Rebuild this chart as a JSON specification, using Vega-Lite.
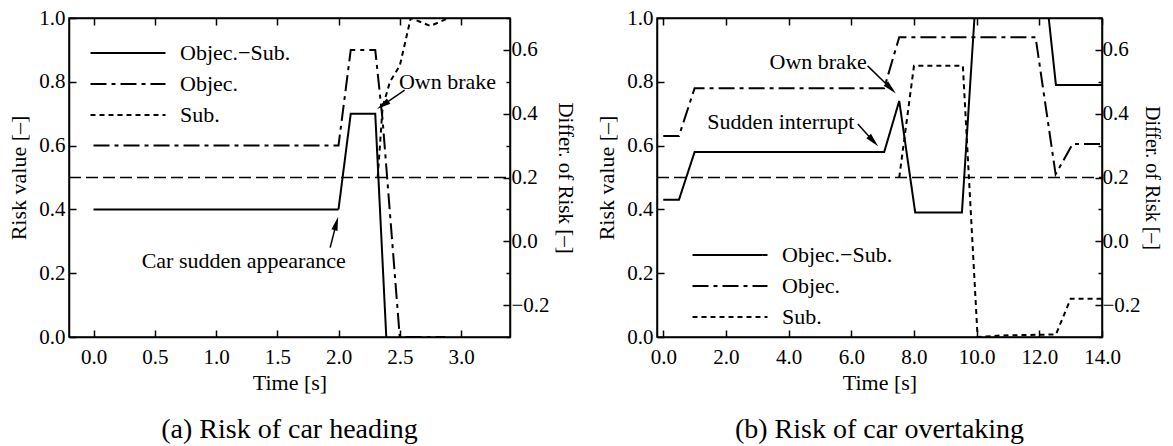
{
  "$schema": "https://vega.github.io/schema/vega-lite/v6.json",
  "background": "white",
  "padding": {"left": 7, "top": 6, "right": 2, "bottom": 5},
  "spacing": 19,
  "resolve": {"scale": {"strokeDash": "independent"}, "legend": {"strokeDash": "independent"}},
  "config": {
    "font": "Liberation Serif",
    "view": {"stroke": "black", "strokeWidth": 1.5},
    "axis": {
      "grid": false,
      "domainColor": "black", "domainWidth": 1.5,
      "tickColor": "black", "tickWidth": 1.5,
      "labelColor": "black", "titleColor": "black",
      "labelFont": "Liberation Serif", "titleFont": "Liberation Serif",
      "labelFontSize": 21, "titleFontSize": 22, "titleFontWeight": "normal",
      "labelFlush": false, "labelOverlap": false
    },
    "legend": {
      "orient": "none", "title": null, "direction": "vertical",
      "symbolType": "M-5,0H5", "symbolSize": 225, "symbolStrokeWidth": 2,
      "symbolStrokeColor": "black", "symbolFillColor": "transparent",
      "labelFont": "Liberation Serif", "labelFontSize": 22, "labelColor": "black",
      "labelOffset": 41, "rowPadding": 9, "padding": 0
    }
  },
  "datasets": {
    "linesA": [
      {"t": 0, "v": 0.4, "s": "Objec.−Sub."},
      {"t": 2.0, "v": 0.4, "s": "Objec.−Sub."},
      {"t": 2.1, "v": 0.7, "s": "Objec.−Sub."},
      {"t": 2.3, "v": 0.7, "s": "Objec.−Sub."},
      {"t": 2.39, "v": 0.0, "s": "Objec.−Sub."},
      {"t": 0, "v": 0.6, "s": "Objec."},
      {"t": 2.0, "v": 0.6, "s": "Objec."},
      {"t": 2.1, "v": 0.9, "s": "Objec."},
      {"t": 2.3, "v": 0.9, "s": "Objec."},
      {"t": 2.36, "v": 0.68, "s": "Objec."},
      {"t": 2.5, "v": 0.0, "s": "Objec."},
      {"t": 2.87, "v": 0.0, "s": "Objec."},
      {"t": 2.32, "v": 0.5, "s": "Sub."},
      {"t": 2.36, "v": 0.72, "s": "Sub."},
      {"t": 2.42, "v": 0.8, "s": "Sub."},
      {"t": 2.5, "v": 0.85, "s": "Sub."},
      {"t": 2.59, "v": 1.0, "s": "Sub."},
      {"t": 2.75, "v": 0.975, "s": "Sub."},
      {"t": 2.9, "v": 1.0, "s": "Sub."},
      {"t": 3.0, "v": 1.0, "s": "Sub."}
    ],
    "linesB": [
      {"t": 0, "v": 0.43, "s": "Objec.−Sub."},
      {"t": 0.5, "v": 0.43, "s": "Objec.−Sub."},
      {"t": 1.0, "v": 0.58, "s": "Objec.−Sub."},
      {"t": 7.05, "v": 0.58, "s": "Objec.−Sub."},
      {"t": 7.53, "v": 0.74, "s": "Objec.−Sub."},
      {"t": 8.04, "v": 0.39, "s": "Objec.−Sub."},
      {"t": 9.53, "v": 0.39, "s": "Objec.−Sub."},
      {"t": 9.93, "v": 1.0, "s": "Objec.−Sub."},
      {"t": 12.3, "v": 1.0, "s": "Objec.−Sub."},
      {"t": 12.53, "v": 0.79, "s": "Objec.−Sub."},
      {"t": 14.0, "v": 0.79, "s": "Objec.−Sub."},
      {"t": 0, "v": 0.63, "s": "Objec."},
      {"t": 0.5, "v": 0.63, "s": "Objec."},
      {"t": 1.0, "v": 0.78, "s": "Objec."},
      {"t": 7.05, "v": 0.78, "s": "Objec."},
      {"t": 7.53, "v": 0.94, "s": "Objec."},
      {"t": 11.88, "v": 0.94, "s": "Objec."},
      {"t": 12.52, "v": 0.51, "s": "Objec."},
      {"t": 13.06, "v": 0.605, "s": "Objec."},
      {"t": 14.0, "v": 0.605, "s": "Objec."},
      {"t": 7.53, "v": 0.5, "s": "Sub."},
      {"t": 8.0, "v": 0.85, "s": "Sub."},
      {"t": 9.56, "v": 0.85, "s": "Sub."},
      {"t": 10.03, "v": 0.0, "s": "Sub."},
      {"t": 10.83, "v": 0.005, "s": "Sub."},
      {"t": 12.53, "v": 0.008, "s": "Sub."},
      {"t": 13.0, "v": 0.12, "s": "Sub."},
      {"t": 14.0, "v": 0.12, "s": "Sub."}
    ],
    "annA": [
      {"t": 2.89, "v": 0.8, "label": "Own brake"},
      {"t": 1.226, "v": 0.2375, "label": "Car sudden appearance"}
    ],
    "arrowsA": [
      {"id": "brake", "t": 2.54, "v": 0.774, "t2": 2.362, "v2": 0.727},
      {"id": "car", "t": 1.932, "v": 0.28, "t2": 1.982, "v2": 0.356}
    ],
    "annB": [
      {"t": 4.94, "v": 0.8625, "label": "Own brake"},
      {"t": 3.75, "v": 0.675, "label": "Sudden interrupt"}
    ],
    "arrowsB": [
      {"id": "brake", "t": 6.52, "v": 0.85, "t2": 7.263, "v2": 0.779},
      {"id": "sudden", "t": 6.207, "v": 0.668, "t2": 6.705, "v2": 0.614}
    ],
    "refA": [{"t0": -0.2, "t1": 3.4, "d": 0.2}],
    "refB": [{"t0": -0.2, "t1": 14.0, "d": 0.2}]
  },
  "hconcat": [
    {
      "width": 441, "height": 319,
      "title": {"text": "(a) Risk of car heading", "orient": "bottom", "frame": "group", "fontSize": 28, "font": "Liberation Serif", "fontWeight": "normal", "offset": 23, "color": "black"},
      "resolve": {"scale": {"y": "independent"}, "axis": {"x": "independent"}},
      "layer": [
        {
          "layer": [
            {
              "data": {"name": "linesA"},
              "mark": {"type": "line", "clip": true, "color": "black", "strokeWidth": 2},
              "encoding": {
                "x": {"field": "t", "type": "quantitative",
                  "scale": {"domain": [-0.2, 3.4], "nice": false, "zero": false},
                  "axis": {"orient": "bottom", "values": [0, 0.5, 1, 1.5, 2, 2.5, 3], "format": ".1f", "title": "Time [s]", "tickSize": -7, "labelPadding": 16, "titlePadding": 5}},
                "y": {"field": "v", "type": "quantitative",
                  "scale": {"domain": [0, 1], "nice": false, "zero": false},
                  "axis": {"orient": "left", "values": [0, 0.1, 0.2, 0.3, 0.4, 0.5, 0.6, 0.7, 0.8, 0.9, 1.0], "format": ".1f",
                    "labelExpr": "abs(round(datum.value*10)) % 2 == 0 ? datum.label : ''",
                    "tickSize": {"condition": {"test": "abs(round(datum.value*10)) % 2 == 0", "value": -7}, "value": -4},
                    "labelPadding": 11, "title": "Risk value [–]", "titlePadding": 8}},
                "strokeDash": {"field": "s", "type": "nominal",
                  "scale": {"domain": ["Objec.−Sub.", "Objec.", "Sub."], "range": [[1, 0], [16, 5, 4, 5], [5, 4]]},
                  "legend": {"legendX": 48, "legendY": 24}}
              }
            },
            {
              "data": {"name": "arrowsA"},
              "mark": {"type": "rule", "color": "black", "strokeWidth": 1.5},
              "encoding": {
                "x": {"field": "t", "type": "quantitative"},
                "y": {"field": "v", "type": "quantitative"},
                "x2": {"field": "t2"},
                "y2": {"field": "v2"}
              }
            },
            {
              "data": {"name": "arrowsA"},
              "transform": [{"filter": "datum.id == 'brake'"}],
              "mark": {"type": "point", "shape": "M0,-1L-0.45,1L0.45,1Z", "size": 196, "filled": true, "fill": "black", "strokeWidth": 0, "opacity": 1, "angle": 235.6},
              "encoding": {
                "x": {"field": "t2", "type": "quantitative"},
                "y": {"field": "v2", "type": "quantitative"}
              }
            },
            {
              "data": {"name": "arrowsA"},
              "transform": [{"filter": "datum.id == 'car'"}],
              "mark": {"type": "point", "shape": "M0,-1L-0.45,1L0.45,1Z", "size": 196, "filled": true, "fill": "black", "strokeWidth": 0, "opacity": 1, "angle": 15.5},
              "encoding": {
                "x": {"field": "t2", "type": "quantitative"},
                "y": {"field": "v2", "type": "quantitative"}
              }
            },
            {
              "data": {"name": "annA"},
              "mark": {"type": "text", "font": "Liberation Serif", "fontSize": 22, "color": "black", "align": "center", "baseline": "middle"},
              "encoding": {
                "x": {"field": "t", "type": "quantitative"},
                "y": {"field": "v", "type": "quantitative"},
                "text": {"field": "label"}
              }
            }
          ]
        },
        {
          "data": {"name": "refA"},
          "mark": {"type": "rule", "color": "black", "strokeWidth": 1.5, "strokeDash": [12, 5]},
          "encoding": {
            "x": {"field": "t0", "type": "quantitative",
              "axis": {"orient": "top", "values": [0, 0.5, 1, 1.5, 2, 2.5, 3], "labels": false, "title": null, "tickSize": -7}},
            "x2": {"field": "t1"},
            "y": {"field": "d", "type": "quantitative",
              "scale": {"domain": [-0.3, 0.7], "nice": false, "zero": false},
              "axis": {"orient": "right", "values": [-0.3, -0.2, -0.1, 0, 0.1, 0.2, 0.3, 0.4, 0.5, 0.6, 0.7], "format": ".1f",
                "labelExpr": "abs(round(datum.value*10)) % 2 == 0 ? datum.label : ''",
                "tickSize": {"condition": {"test": "abs(round(datum.value*10)) % 2 == 0", "value": -7}, "value": -4},
                "labelPadding": 8, "title": "Differ. of Risk [–]", "titleFontSize": 21, "titlePadding": 5}}
          }
        }
      ]
    },
    {
      "width": 445, "height": 319,
      "title": {"text": "(b) Risk of car overtaking", "orient": "bottom", "frame": "group", "fontSize": 28, "font": "Liberation Serif", "fontWeight": "normal", "offset": 23, "color": "black"},
      "resolve": {"scale": {"y": "independent"}, "axis": {"x": "independent"}},
      "layer": [
        {
          "layer": [
            {
              "data": {"name": "linesB"},
              "mark": {"type": "line", "clip": true, "color": "black", "strokeWidth": 2},
              "encoding": {
                "x": {"field": "t", "type": "quantitative",
                  "scale": {"domain": [-0.2, 14.0], "nice": false, "zero": false},
                  "axis": {"orient": "bottom", "values": [0, 2, 4, 6, 8, 10, 12, 14], "format": ".1f", "title": "Time [s]", "tickSize": -7, "labelPadding": 16, "titlePadding": 5}},
                "y": {"field": "v", "type": "quantitative",
                  "scale": {"domain": [0, 1], "nice": false, "zero": false},
                  "axis": {"orient": "left", "values": [0, 0.1, 0.2, 0.3, 0.4, 0.5, 0.6, 0.7, 0.8, 0.9, 1.0], "format": ".1f",
                    "labelExpr": "abs(round(datum.value*10)) % 2 == 0 ? datum.label : ''",
                    "tickSize": {"condition": {"test": "abs(round(datum.value*10)) % 2 == 0", "value": -7}, "value": -4},
                    "labelPadding": 11, "title": "Risk value [–]", "titlePadding": 8}},
                "strokeDash": {"field": "s", "type": "nominal",
                  "scale": {"domain": ["Objec.−Sub.", "Objec.", "Sub."], "range": [[1, 0], [16, 5, 4, 5], [5, 4]]},
                  "legend": {"legendX": 62, "legendY": 226}}
              }
            },
            {
              "data": {"name": "arrowsB"},
              "mark": {"type": "rule", "color": "black", "strokeWidth": 1.5},
              "encoding": {
                "x": {"field": "t", "type": "quantitative"},
                "y": {"field": "v", "type": "quantitative"},
                "x2": {"field": "t2"},
                "y2": {"field": "v2"}
              }
            },
            {
              "data": {"name": "arrowsB"},
              "transform": [{"filter": "datum.id == 'brake'"}],
              "mark": {"type": "point", "shape": "M0,-1L-0.45,1L0.45,1Z", "size": 196, "filled": true, "fill": "black", "strokeWidth": 0, "opacity": 1, "angle": 134.3},
              "encoding": {
                "x": {"field": "t2", "type": "quantitative"},
                "y": {"field": "v2", "type": "quantitative"}
              }
            },
            {
              "data": {"name": "arrowsB"},
              "transform": [{"filter": "datum.id == 'sudden'"}],
              "mark": {"type": "point", "shape": "M0,-1L-0.45,1L0.45,1Z", "size": 196, "filled": true, "fill": "black", "strokeWidth": 0, "opacity": 1, "angle": 137.3},
              "encoding": {
                "x": {"field": "t2", "type": "quantitative"},
                "y": {"field": "v2", "type": "quantitative"}
              }
            },
            {
              "data": {"name": "annB"},
              "mark": {"type": "text", "font": "Liberation Serif", "fontSize": 22, "color": "black", "align": "center", "baseline": "middle"},
              "encoding": {
                "x": {"field": "t", "type": "quantitative"},
                "y": {"field": "v", "type": "quantitative"},
                "text": {"field": "label"}
              }
            }
          ]
        },
        {
          "data": {"name": "refB"},
          "mark": {"type": "rule", "color": "black", "strokeWidth": 1.5, "strokeDash": [12, 5]},
          "encoding": {
            "x": {"field": "t0", "type": "quantitative",
              "axis": {"orient": "top", "values": [0, 2, 4, 6, 8, 10, 12, 14], "labels": false, "title": null, "tickSize": -7}},
            "x2": {"field": "t1"},
            "y": {"field": "d", "type": "quantitative",
              "scale": {"domain": [-0.3, 0.7], "nice": false, "zero": false},
              "axis": {"orient": "right", "values": [-0.3, -0.2, -0.1, 0, 0.1, 0.2, 0.3, 0.4, 0.5, 0.6, 0.7], "format": ".1f",
                "labelExpr": "abs(round(datum.value*10)) % 2 == 0 ? datum.label : ''",
                "tickSize": {"condition": {"test": "abs(round(datum.value*10)) % 2 == 0", "value": -7}, "value": -4},
                "labelPadding": 7, "title": "Differ. of Risk [–]", "titleFontSize": 20, "titlePadding": 1}}
          }
        }
      ]
    }
  ]
}
